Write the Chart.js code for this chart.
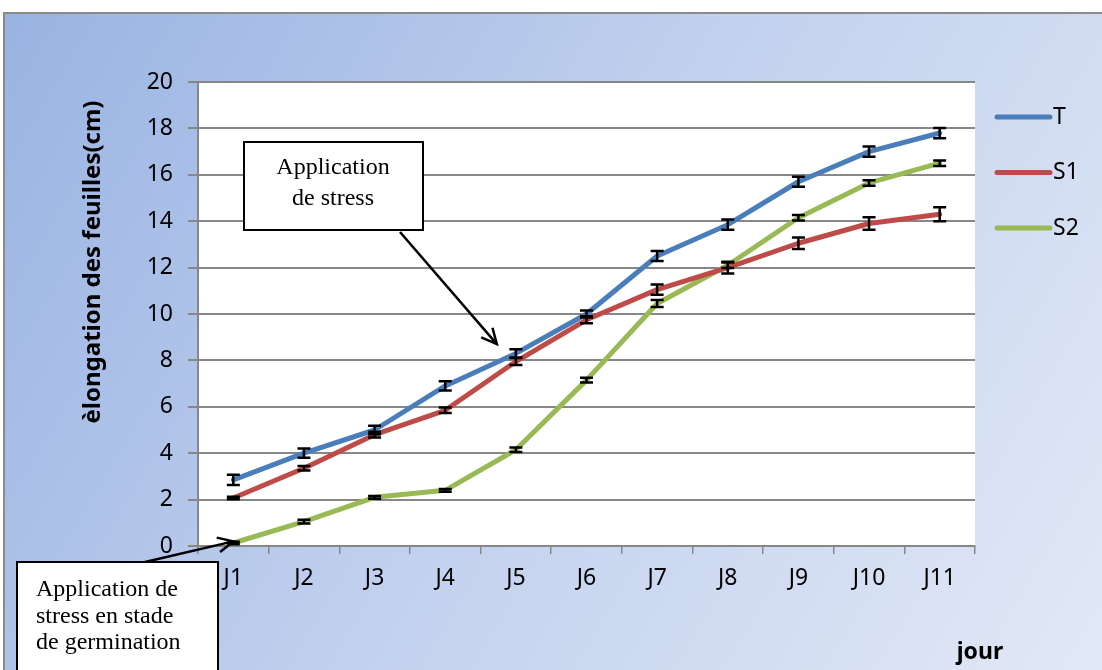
<!DOCTYPE html>
<html>
<head>
<meta charset="utf-8">
<script src="https://cdn.jsdelivr.net/npm/chart.js@4.4.0/dist/chart.umd.min.js"></script>
<style>
  html, body { margin: 0; padding: 0; background: #fff; }
  #c { display: block; }
</style>
</head>
<body>
<canvas id="c" width="1102" height="670"></canvas>
<script>
// jours de mesure
const days = ['J1', 'J2', 'J3', 'J4', 'J5', 'J6', 'J7', 'J8', 'J9', 'J10', 'J11'];
const yTicks = [0, 2, 4, 6, 8, 10, 12, 14, 16, 18, 20];

// élongation moyenne (cm)
const T  = [2.85, 4.0, 5.0, 6.9, 8.3, 10.0, 12.5, 13.85, 15.7, 17.0, 17.8];
const S1 = [2.07, 3.35, 4.8, 5.85, 7.95, 9.75, 11.05, 12.0, 13.05, 13.9, 14.3];
const S2 = [0.13, 1.05, 2.1, 2.4, 4.15, 7.15, 10.45, 12.1, 14.15, 15.65, 16.5];

// écarts (barres d'erreur)
const T_err  = [0.22, 0.2, 0.18, 0.2, 0.18, 0.15, 0.22, 0.22, 0.22, 0.22, 0.22];
const S1_err = [0.05, 0.1, 0.12, 0.12, 0.15, 0.15, 0.22, 0.25, 0.25, 0.27, 0.3];
const S2_err = [0.05, 0.08, 0.06, 0.06, 0.1, 0.1, 0.15, 0.12, 0.12, 0.12, 0.12];

const colors = { T: '#4a7ebb', S1: '#be4b48', S2: '#98b954' };
const gridColor = '#878787';
const tickFont = { family: 'Noto Sans', size: 23 };

const backdrop = {
  id: 'backdrop',
  beforeDraw(chart) {
    const ctx = chart.ctx;
    const a = chart.chartArea;
    ctx.save();
    ctx.fillStyle = '#fff';
    ctx.fillRect(0, 0, chart.width, chart.height);
    const g = ctx.createLinearGradient(4, 13, 1102, 670);
    g.addColorStop(0, '#99b3e2');
    g.addColorStop(0.5, '#c2d1ee');
    g.addColorStop(1, '#e2e9f6');
    ctx.fillStyle = g;
    ctx.fillRect(4, 13, chart.width - 4, chart.height - 13);
    ctx.strokeStyle = '#8a8a8a';
    ctx.lineWidth = 2;
    ctx.strokeRect(4, 13, chart.width + 10, chart.height + 10);
    ctx.fillStyle = '#fff';
    ctx.fillRect(a.left, a.top, a.right - a.left, a.bottom - a.top);
    ctx.restore();
  }
};

const errorBars = {
  id: 'errorBars',
  afterDatasetsDraw(chart) {
    const ctx = chart.ctx;
    const x = chart.scales.x, y = chart.scales.y;
    ctx.save();
    ctx.strokeStyle = '#000';
    ctx.lineWidth = 2.5;
    chart.data.datasets.forEach(ds => {
      ds.data.forEach((v, i) => {
        const e = ds.err[i];
        const px = x.getPixelForValue(i);
        const top = y.getPixelForValue(v + e);
        const bot = y.getPixelForValue(v - e);
        ctx.beginPath();
        ctx.moveTo(px, top); ctx.lineTo(px, bot);
        ctx.moveTo(px - 6.5, top); ctx.lineTo(px + 6.5, top);
        ctx.moveTo(px - 6.5, bot); ctx.lineTo(px + 6.5, bot);
        ctx.stroke();
      });
    });
    ctx.restore();
  }
};

function arrow(ctx, x1, y1, x2, y2) {
  const ang = Math.atan2(y2 - y1, x2 - x1);
  const len = 17;
  ctx.beginPath();
  ctx.moveTo(x1, y1); ctx.lineTo(x2, y2);
  ctx.moveTo(x2 - len * Math.cos(ang - 0.45), y2 - len * Math.sin(ang - 0.45));
  ctx.lineTo(x2, y2);
  ctx.lineTo(x2 - len * Math.cos(ang + 0.45), y2 - len * Math.sin(ang + 0.45));
  ctx.stroke();
}

const extras = {
  id: 'extras',
  afterDraw(chart) {
    const ctx = chart.ctx;
    const x = chart.scales.x, y = chart.scales.y;
    ctx.save();

    // titre axe Y
    ctx.fillStyle = '#000';
    ctx.font = 'bold 24px "Noto Sans"';
    ctx.textAlign = 'center';
    ctx.textBaseline = 'middle';
    ctx.save();
    ctx.translate(93, 262);
    ctx.rotate(-Math.PI / 2);
    ctx.fillText('èlongation des feuilles(cm)', 0, 0);
    ctx.restore();

    // titre axe X
    ctx.font = 'bold 23px "Noto Sans"';
    ctx.fillText('jour', 980, 652);

    // légende
    ctx.textAlign = 'left';
    ctx.font = '23px "Noto Sans"';
    chart.data.datasets.forEach((ds, i) => {
      const ly = 117 + i * 55.5;
      ctx.strokeStyle = ds.borderColor;
      ctx.lineWidth = 5;
      ctx.lineCap = 'round';
      ctx.beginPath();
      ctx.moveTo(997, ly); ctx.lineTo(1050, ly);
      ctx.stroke();
      ctx.fillStyle = '#000';
      ctx.fillText(ds.label, 1053, ly);
    });
    ctx.lineCap = 'butt';

    // annotation 1
    ctx.fillStyle = '#fff';
    ctx.fillRect(244, 142, 179, 88);
    ctx.strokeStyle = '#000';
    ctx.lineWidth = 2;
    ctx.strokeRect(244, 142, 179, 88);
    ctx.fillStyle = '#000';
    ctx.font = '24px "Liberation Serif"';
    ctx.textAlign = 'center';
    ctx.fillText('Application', 333, 168);
    ctx.fillText('de stress', 333, 199);
    ctx.lineWidth = 2.5;
    arrow(ctx, 400, 232, x.getPixelForValue(4) - 19, y.getPixelForValue(8.7));

    // annotation 2
    ctx.lineWidth = 2;
    ctx.fillStyle = '#fff';
    ctx.fillRect(17, 562, 201, 120);
    ctx.strokeRect(17, 562, 201, 120);
    ctx.fillStyle = '#000';
    ctx.textAlign = 'left';
    ctx.fillText('Application de', 36, 590);
    ctx.fillText('stress en stade', 36, 617);
    ctx.fillText('de germination', 36, 643);
    ctx.lineWidth = 2.5;
    arrow(ctx, 145, 562, x.getPixelForValue(0), y.getPixelForValue(0.2));

    ctx.restore();
  }
};

function series(label, data, err, color) {
  return {
    label: label,
    data: data,
    err: err,
    borderColor: color,
    backgroundColor: color,
    borderWidth: 5,
    pointRadius: 0,
    tension: 0,
    borderJoinStyle: 'round',
    borderCapStyle: 'round'
  };
}

new Chart(document.getElementById('c'), {
  type: 'line',
  data: {
    labels: days,
    datasets: [
      series('T', T, T_err, colors.T),
      series('S1', S1, S1_err, colors.S1),
      series('S2', S2, S2_err, colors.S2)
    ]
  },
  options: {
    responsive: false,
    animation: false,
    devicePixelRatio: 1,
    layout: { padding: { top: 82, right: 127, left: 0, bottom: 0 } },
    plugins: { legend: { display: false }, tooltip: { enabled: false } },
    scales: {
      x: {
        offset: true,
        grid: { offset: true, drawOnChartArea: false, color: gridColor, lineWidth: 1.5, tickLength: 8 },
        border: { color: gridColor, width: 2 },
        ticks: { color: '#000', font: tickFont, padding: 11, maxRotation: 0 },
        afterFit(s) { s.height = 124; }
      },
      y: {
        min: 0,
        max: 20,
        afterBuildTicks(s) { s.ticks = yTicks.map(v => ({ value: v })); },
        grid: { color: gridColor, lineWidth: 2, tickLength: 10 },
        border: { color: gridColor, width: 2 },
        ticks: { color: '#000', font: tickFont, padding: 15 },
        afterFit(s) { s.width = 198; }
      }
    }
  },
  plugins: [backdrop, errorBars, extras]
});
</script>
</body>
</html>
